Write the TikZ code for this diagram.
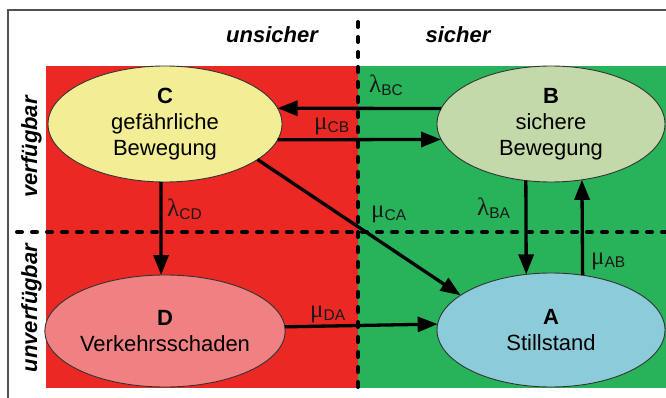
\documentclass[tikz,border=0pt]{standalone}
\usepackage{fontspec}
\setmainfont{Liberation Sans}
\newfontfamily\greekfont{Liberation Serif}
\usetikzlibrary{arrows.meta,shapes.geometric}
\definecolor{redbg}{RGB}{236,40,36}
\definecolor{greenbg}{RGB}{40,178,90}
\definecolor{cfill}{RGB}{243,238,150}
\definecolor{bfill}{RGB}{196,217,170}
\definecolor{dfill}{RGB}{240,128,130}
\definecolor{afill}{RGB}{140,204,218}
\definecolor{framegray}{RGB}{80,80,80}
\newcommand{\ratelbl}[2]{{\greekfont\fontsize{25}{25}\selectfont #1}\raisebox{-3pt}{\fontsize{15.5}{15.5}\selectfont #2}}
\begin{document}
\begin{tikzpicture}[x=1pt,y=-1pt,
  state/.style={ellipse, draw=black!80, line width=0.9pt, inner sep=0pt, outer sep=0pt,
    align=center, font=\fontsize{22}{26}\selectfont},
  arr/.style={line width=3.3pt, -{Triangle[length=20pt,width=15pt]}},
  sepline/.style={line width=4pt, dash pattern=on 5pt off 10pt, line cap=round},
  lbl/.style={anchor=base west, inner sep=0pt, text=black!90},
  head/.style={anchor=base, inner sep=0pt, font=\fontsize{22}{26}\selectfont\bfseries\itshape}]
\useasboundingbox (0,0) rectangle (666,398);
% backgrounds
\fill[redbg] (46,66) rectangle (358,388);
\fill[greenbg] (358,66) rectangle (666,388);
% frame
\draw[framegray, line width=1.2pt] (8,398) -- (8,10) -- (666,10);
% separators
\draw[sepline] (358,22) -- (358,392);
\draw[sepline] (17,232) -- (666,232);
% headings
\node[head] (hu) at (272,43) {unsicher};
\node[head] (hs) at (458,43) {sicher};
\node[head, rotate=90] (hv) at (37,147) {verfügbar};
\node[head, rotate=90] (hn) at (37,308) {unverfügbar};
% states
\node[state, fill=cfill, minimum width=234pt, minimum height=116pt] (C) at (165,124)
  {{\bfseries C}\\gefährliche\\Bewegung};
\node[state, fill=bfill, minimum width=228pt, minimum height=116pt] (B) at (551,124)
  {{\bfseries B}\\sichere\\Bewegung};
\node[state, fill=dfill, minimum width=234pt, minimum height=112pt] (D) at (165,331)
  {{\bfseries D}\\Verkehrsschaden};
\node[state, fill=afill, minimum width=228pt, minimum height=114pt] (A) at (551,330)
  {{\bfseries A}\\Stillstand};
% transitions
\draw[arr] (B.172) -- (C.8);
\draw[arr] (C.-8) -- (B.188);
\draw[arr] (C.-21) -- (A.159);
\draw[arr] (C.266) -- (D.94);
\draw[arr] (B.246) -- (A.114);
\draw[arr] (A.60.5) -- (B.-61);
\draw[arr] (D.2.5) -- (A.177.5);
% rate labels
\node[lbl] (lBC) at (369,93) {\ratelbl{λ}{BC}};
\node[lbl] (mCB) at (314,130) {\ratelbl{μ}{CB}};
\node[lbl] (mCA) at (371,217) {\ratelbl{μ}{CA}};
\node[lbl] (lCD) at (167,216) {\ratelbl{λ}{CD}};
\node[lbl] (lBA) at (477,215) {\ratelbl{λ}{BA}};
\node[lbl] (mAB) at (591,264) {\ratelbl{μ}{AB}};
\node[lbl] (mDA) at (310,317) {\ratelbl{μ}{DA}};
\end{tikzpicture}
\end{document}
